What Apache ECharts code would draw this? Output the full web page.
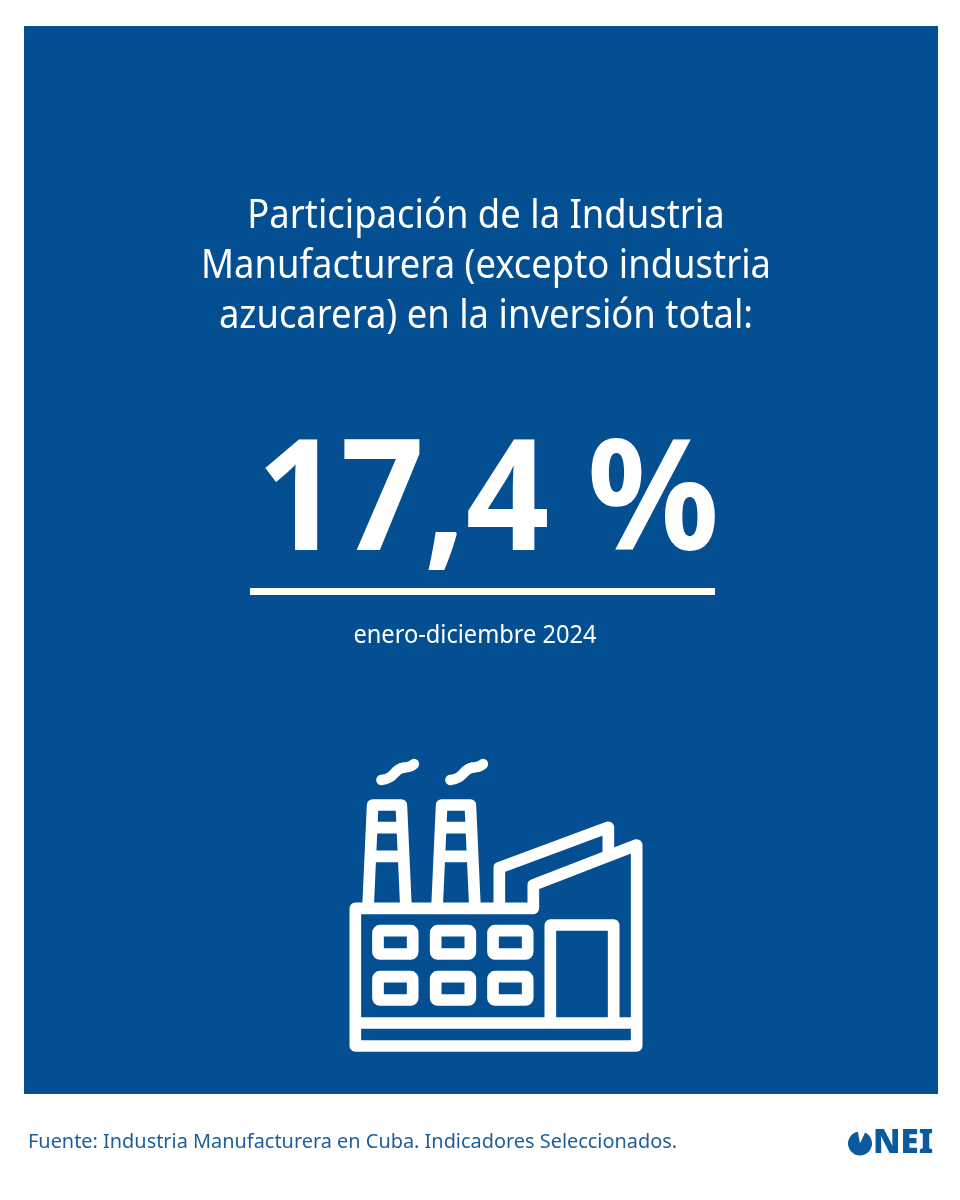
<!DOCTYPE html>
<html>
<head>
<meta charset="utf-8">
<title>ONEI</title>
<script src="https://cdn.jsdelivr.net/npm/echarts@6/dist/echarts.min.js"></script>
<style>
html,body{margin:0;padding:0;background:#fff;}
#chart{width:960px;height:1200px;}
</style>
</head>
<body>
<div id="chart"></div>
<script>
var titleLines = ["Participación de la Industria", "Manufacturera (excepto industria", "azucarera) en la inversión total:"];
var shareValue = [17.4];
var periodLabel = ["enero-diciembre 2024"];
var sourceLabel = ["Fuente: Industria Manufacturera en Cuba. Indicadores Seleccionados."];
var logoLabel = ["NEI"];

var BLUE = "#034f92";
var WHITE = "#ffffff";
var FONT = '"Noto Sans", "Open Sans", sans-serif';

function textEl(str, x, y, size, weight, fill, align, sx){
	return {
		type: "text",
		x: x,
		y: y,
		scaleX: sx,
		style: {
			text: str,
			x: 0,
			y: 0,
			fill: fill,
			font: weight + " " + size + "px " + FONT,
			textAlign: align,
			verticalAlign: "middle"
		}
	};
}

//factory icon, drawn in a 3x box and scaled down
function iconLine(points, closed){
	return {
		type: closed ? "polygon" : "polyline",
		shape: {points: points},
		style: {fill: null, stroke: WHITE, lineWidth: 35, lineJoin: "round", lineCap: "butt"}
	};
}

function smokeCurve(x1, y1, cx1, cy1, cx2, cy2, x2, y2){
	return {
		type: "bezierCurve",
		shape: {x1: x1, y1: y1, cpx1: cx1, cpy1: cy1, cpx2: cx2, cpy2: cy2, x2: x2, y2: y2},
		style: {fill: null, stroke: WHITE, lineWidth: 31, lineCap: "round"}
	};
}

function factoryIcon(){
	var children = [];
	children.push(iconLine([[580,475],[580,405],[890,285],[890,888],[46,888],[46,475]], true));
	children.push(iconLine([[46,819],[890,819]]));
	children.push(iconLine([[478,475],[478,353],[805,232],[805,318]]));
	children.push(iconLine([[631,819],[631,525],[821,525],[821,819]]));
	var stacks = [0, 207];
	for(var i=0;i<stacks.length;i++){
		var dx = stacks[i];
		children.push(iconLine([[84+dx,475],[98+dx,165],[184+dx,165],[198+dx,475]]));
		children.push(iconLine([[92+dx,233],[190+dx,233]]));
		children.push(iconLine([[88+dx,319],[194+dx,319]]));
		children.push(smokeCurve(124+dx,90, 165+dx,86, 160+dx,58, 190+dx,53));
		children.push(smokeCurve(190+dx,53, 203+dx,51, 212+dx,52, 222+dx,42));
	}
	var cols = [97, 270, 442];
	var rows = [525, 663];
	for(var c=0;c<cols.length;c++){
		for(var r=0;r<rows.length;r++){
			children.push({
				type: "rect",
				shape: {x: cols[c]+17, y: rows[r]+17, width: 104, height: 70, r: 6},
				style: {fill: null, stroke: WHITE, lineWidth: 35, lineJoin: "round"}
			});
		}
	}
	return {type: "group", x: 340, y: 750, scaleX: 1/3, scaleY: 1/3, children: children};
}

var chart = echarts.init(document.getElementById("chart"), null, {renderer: "canvas"});
var graphics = [];

graphics.push({type: "rect", shape: {x: 24, y: 26, width: 914, height: 1068}, style: {fill: BLUE}});

var titleY = [217, 267, 317];
for(var i=0;i<titleLines.length;i++){
	graphics.push(textEl(titleLines[i], 486, titleY[i], 40, "400", WHITE, "center", 0.91));
}

graphics.push(textEl(String(shareValue[0]).replace(".", ",") + " %", 488, 506, 155, "700", WHITE, "center", 0.943));
graphics.push({type: "rect", shape: {x: 250, y: 588, width: 465, height: 7}, style: {fill: WHITE}});
graphics.push(textEl(periodLabel[0], 475, 636, 25, "400", WHITE, "center", 0.945));

graphics.push(factoryIcon());

graphics.push(textEl(sourceLabel[0], 28, 1142, 20, "400", "#1b5e9e", "left", 0.995));

//logo: notched circle + letters
graphics.push({
	type: "sector",
	shape: {cx: 860, cy: 1143.5, r0: 0, r: 12, startAngle: -65*Math.PI/180, endAngle: 260*Math.PI/180},
	style: {fill: "#0b5a9f"}
});
graphics.push(textEl(logoLabel[0], 873, 1144, 33, "900", "#0b5a9f", "left", 1.0));

chart.setOption({
	animation: false,
	backgroundColor: "#ffffff",
	graphic: {elements: graphics}
});
</script>
</body>
</html>
